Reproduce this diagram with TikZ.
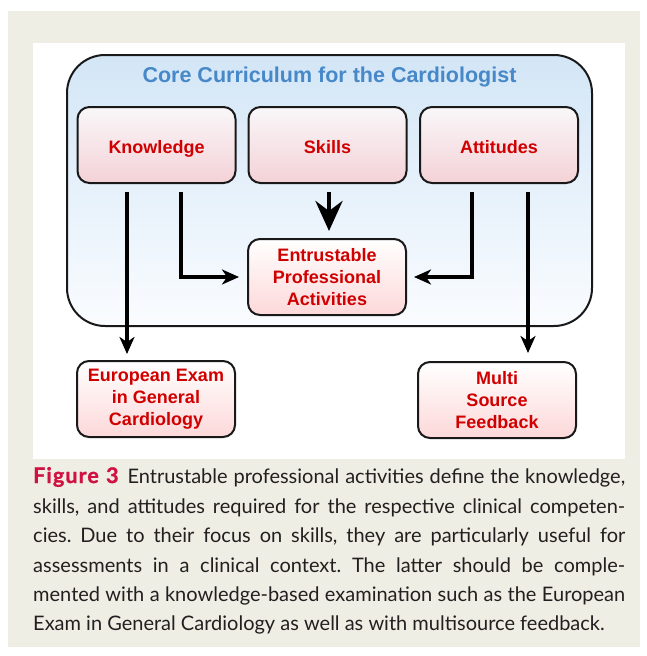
\documentclass[tikz,border=0pt]{standalone}
\usepackage{fontspec}
\setmainfont{Liberation Sans}
\newfontfamily\capfont{Lato}
\usetikzlibrary{arrows.meta,calc}
\definecolor{beige}{RGB}{238,238,228}
\definecolor{lblred}{RGB}{208,0,0}
\definecolor{ttlblue}{RGB}{70,136,200}
\definecolor{figred}{RGB}{208,18,66}
\definecolor{outtop}{RGB}{211,230,246}
\definecolor{outbot}{RGB}{250,252,255}
\definecolor{boxtop}{RGB}{249,247,249}
\definecolor{boxbot}{RGB}{244,210,215}
\definecolor{lowbot}{RGB}{253,216,217}
\definecolor{capgray}{RGB}{35,31,32}
\begin{document}
\begin{tikzpicture}[x=1pt,y=-1pt,
  blk/.style={draw=black!90, line width=2pt, rounded corners=12pt,
    minimum width=158pt, minimum height=76pt, inner sep=2pt,
    font=\fontsize{18}{22}\selectfont\bfseries, text=lblred, align=center},
  topbox/.style={blk, top color=boxtop, bottom color=boxbot, text height=17pt, text depth=0pt},
  lowbox/.style={blk, top color=white, bottom color=lowbot},
  arr/.style={line width=3.2pt, -{Stealth[length=17pt,width=15pt,inset=5pt]}},
  bigarr/.style={line width=4.6pt, -{Stealth[length=30pt,width=27pt,inset=10pt]}},
  capline/.style={anchor=base west, inner sep=0pt, text=capgray,
    font=\capfont\fontsize{20}{24}\selectfont\frenchspacing}
]
\useasboundingbox (0,0) rectangle (646,656);
\fill[white] (0,0) rectangle (646,656);
\fill[beige] (8,11) rectangle (640,647);
\fill[white] (33,43) rectangle (625,459);

\node[draw=black!90, line width=2pt, rounded corners=38pt, minimum width=525pt,
  minimum height=271pt, top color=outtop, bottom color=outbot] (core) at (329.5,190.5) {};
\node[font=\fontsize{21.5}{24}\selectfont\bfseries, text=ttlblue] (title) at (329.5,77) {Core Curriculum for the Cardiologist};

\node[topbox] (knowledge) at (156.5,145) {Knowledge};
\node[topbox] (skills) at (327.5,145) {Skills};
\node[topbox] (attitudes) at (499,145) {Attitudes};
\node[lowbox] (epa) at (327,277) {Entrustable\\Professional\\Activities};
\node[lowbox] (exam) at (156,399) {European Exam\\in General\\Cardiology};
\node[lowbox] (msf) at (497,400) {Multi\\Source\\Feedback};

\draw[arr, shorten >=6pt] ([xshift=-29.5pt,yshift=-8pt]knowledge.south) -- ([xshift=-29.5pt]knowledge.south |- exam.north);
\draw[arr, shorten >=8pt] ([xshift=24.5pt,yshift=-8pt]knowledge.south) |- (epa.west);
\draw[bigarr, shorten >=7pt] ([xshift=1.5pt,yshift=-8pt]skills.south) -- ([xshift=1.5pt]skills.south |- epa.north);
\draw[arr, shorten >=7pt] ([xshift=-27pt,yshift=-8pt]attitudes.south) |- (epa.east);
\draw[arr, shorten >=8pt] ([xshift=29pt,yshift=-8pt]attitudes.south) -- ([xshift=29pt]attitudes.south |- msf.north);

\node[capline] (cap1) at (33,483) {\makebox[592pt][s]{{\fontsize{21.5}{24}\selectfont\bfseries\addfontfeature{FakeBold=1.2,LetterSpace=5}\color{figred}Figure 3}\hspace{3pt} Entrustable professional activities define the knowledge,}};
\node[capline] (cap2) at (33,513) {\makebox[592pt][s]{skills, and attitudes required for the respective clinical competen-}};
\node[capline] (cap3) at (33,542) {\makebox[592pt][s]{cies. Due to their focus on skills, they are particularly useful for}};
\node[capline] (cap4) at (33,572) {\makebox[592pt][s]{assessments in a clinical context. The latter should be comple-}};
\node[capline] (cap5) at (33,601) {\makebox[592pt][s]{mented with a knowledge-based examination such as the European}};
\node[capline] (cap6) at (33,630) {Exam in General Cardiology as well as with multisource feedback.};
\end{tikzpicture}
\end{document}
